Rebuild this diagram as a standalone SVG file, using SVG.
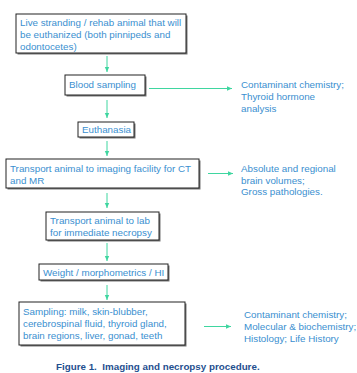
<svg xmlns="http://www.w3.org/2000/svg" width="357" height="373" viewBox="0 0 357 373">
<defs>
<style>
.box{fill:#fff;stroke:#222;stroke-width:1}
.sh{fill:#777}
.t{font-family:"Liberation Sans",Arial,sans-serif;font-size:9.8px;fill:#3a8fd0}
.c{stroke:#3fd6a0;stroke-width:1;fill:none}
.cap{font-family:"Liberation Sans",Arial,sans-serif;font-size:9.8px;font-weight:bold;fill:#1f4f8f;white-space:pre}
</style>
<marker id="ah" markerWidth="6" markerHeight="6" refX="5" refY="3" orient="auto" markerUnits="userSpaceOnUse">
<path d="M0,0.8 L5,3 L0,5.2 Z" fill="#3fd6a0"/>
</marker>
</defs>
<rect width="357" height="373" fill="#fff"/>
<g id="n1">
<rect class="sh" x="17.5" y="15.5" width="170" height="39"/>
<rect class="box" x="16" y="14" width="170" height="39"/>
<text class="t" x="20" y="25.5">Live stranding / rehab animal that will</text>
<text class="t" x="20" y="37.5">be euthanized (both pinnipeds and</text>
<text class="t" x="20" y="49.5">odontocetes)</text>
</g>
<g id="n2">
<rect class="sh" x="66.5" y="76.5" width="80" height="20"/>
<rect class="box" x="65" y="75" width="80" height="20"/>
<text class="t" x="69" y="88">Blood sampling</text>
</g>
<g id="r1">
<text class="t" x="241" y="87.5">Contaminant chemistry;</text>
<text class="t" x="241" y="99.5">Thyroid hormone</text>
<text class="t" x="241" y="111.5">analysis</text>
</g>
<g id="n3">
<rect class="sh" x="79.5" y="123.5" width="56" height="15"/>
<rect class="box" x="78" y="122" width="56" height="15"/>
<text class="t" x="82" y="133">Euthanasia</text>
</g>
<g id="n4">
<rect class="sh" x="7.5" y="160.5" width="193" height="29"/>
<rect class="box" x="6" y="159" width="193" height="29"/>
<text class="t" x="10" y="172">Transport animal to imaging facility for CT</text>
<text class="t" x="10" y="184">and MR</text>
</g>
<g id="r2">
<text class="t" x="241" y="172">Absolute and regional</text>
<text class="t" x="241" y="183.5">brain volumes;</text>
<text class="t" x="241" y="195">Gross pathologies.</text>
</g>
<g id="n5">
<rect class="sh" x="47.5" y="213.5" width="113" height="28"/>
<rect class="box" x="46" y="212" width="113" height="28"/>
<text class="t" x="50" y="224">Transport animal to lab</text>
<text class="t" x="50" y="235.5">for immediate necropsy</text>
</g>
<g id="n6">
<rect class="sh" x="40.5" y="265.5" width="129" height="16"/>
<rect class="box" x="39" y="264" width="129" height="16"/>
<text class="t" x="43" y="276">Weight / morphometrics / HI</text>
</g>
<g id="n7">
<rect class="sh" x="20.5" y="303.5" width="166" height="43"/>
<rect class="box" x="19" y="302" width="166" height="43"/>
<text class="t" x="23" y="315">Sampling: milk, skin-blubber,</text>
<text class="t" x="23" y="327">cerebrospinal fluid, thyroid gland,</text>
<text class="t" x="23" y="339">brain regions, liver, gonad, teeth</text>
</g>
<g id="r3">
<text class="t" x="244" y="317.5">Contaminant chemistry;</text>
<text class="t" x="244" y="330">Molecular &amp; biochemistry;</text>
<text class="t" x="244" y="342">Histology; Life History</text>
</g>
<g id="connectors">
<line class="c" x1="107" y1="56" x2="107" y2="72" marker-end="url(#ah)"/>
<line class="c" x1="149" y1="88.5" x2="232" y2="88.5" marker-end="url(#ah)"/>
<line class="c" x1="107" y1="100" x2="107" y2="118" marker-end="url(#ah)"/>
<line class="c" x1="107" y1="141" x2="107" y2="156" marker-end="url(#ah)"/>
<line class="c" x1="208" y1="173.5" x2="233" y2="173.5" marker-end="url(#ah)"/>
<line class="c" x1="107" y1="193" x2="107" y2="208" marker-end="url(#ah)"/>
<line class="c" x1="107" y1="243" x2="107" y2="261" marker-end="url(#ah)"/>
<line class="c" x1="107" y1="285" x2="107" y2="300" marker-end="url(#ah)"/>
<line class="c" x1="204" y1="326.5" x2="231" y2="326.5" marker-end="url(#ah)"/>
</g>
<text class="cap" x="56" y="370" xml:space="preserve">Figure 1.  Imaging and necropsy procedure.</text>
</svg>
